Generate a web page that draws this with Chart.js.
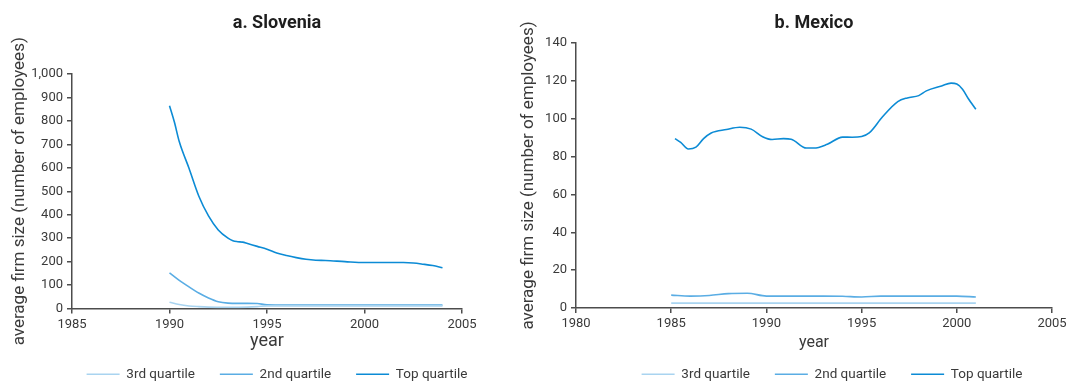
<!DOCTYPE html>
<html>
<head>
<meta charset="utf-8">
<script src="https://cdn.jsdelivr.net/npm/chart.js@4.4.1/dist/chart.umd.min.js"></script>
<style>
  html, body { margin: 0; padding: 0; background: #ffffff; }
  body { width: 1072px; height: 382px; overflow: hidden; position: relative; }
  canvas { position: absolute; top: 0; }
  #slovenia { left: 0; }
  #mexico { left: 496px; }
</style>
</head>
<body>
<canvas id="slovenia" width="500" height="392"></canvas>
<canvas id="mexico" width="576" height="392"></canvas>
<script>
// ---- Panel a: Slovenia (average firm size by size quartile) ----
const sloTopYears = [1990, 1990.25, 1990.5, 1991, 1991.5, 1992, 1992.5, 1993, 1993.25, 1993.5, 1993.75, 1994, 1994.5, 1995, 1995.5, 1996, 1996.5, 1997, 1997.5, 1998, 1999, 2000, 2001, 2002, 2002.5, 2003, 2003.5, 2004];
const sloTopValues = [865, 795, 712, 598, 480, 395, 335, 300, 289, 285, 283, 277, 265, 253, 237, 226, 217, 210, 206, 205, 200, 196, 196, 196, 194, 189, 183, 174];

const sloSecondYears = [1990, 1990.5, 1991, 1991.5, 1992, 1992.5, 1993, 1993.5, 1994, 1994.5, 1995, 1996, 1997, 1998, 1999, 2000, 2001, 2002, 2003, 2004];
const sloSecondValues = [152, 120, 92, 66, 45, 29, 23, 22, 22, 21, 16, 15, 15, 15, 15, 15, 15, 15, 15, 15];

const sloThirdYears = [1990, 1990.5, 1991, 1991.5, 1992, 1993, 1994, 1994.5, 1995, 1996, 1997, 1998, 1999, 2000, 2001, 2002, 2003, 2004];
const sloThirdValues = [27, 17, 11, 8, 6, 5, 6, 8, 11, 11, 11, 11, 11, 11, 11, 11, 11, 11];

// ---- Panel b: Mexico ----
const mexTopYears = [1985.2, 1985.5, 1985.9, 1986.3, 1986.7, 1987.1, 1987.9, 1988.6, 1989.2, 1989.8, 1990.3, 1990.9, 1991.3, 1992.1, 1992.5, 1993.2, 1994, 1994.5, 1995, 1995.4, 1996.1, 1996.9, 1997.4, 1998, 1998.4, 1999.2, 1999.7, 2000, 2000.3, 2000.6, 2001];
const mexTopValues = [89.5, 87.5, 84, 85, 89.5, 92.5, 94.3, 95.5, 94.5, 90.5, 89, 89.5, 89.2, 84.5, 84.5, 86.5, 90.3, 90.2, 90.6, 92.5, 101, 109, 111, 112.2, 114.7, 117.3, 118.8, 118.3, 115.6, 110.7, 105];

const mexSecondYears = [1985, 1986, 1987, 1988, 1989, 1990, 1991, 1992, 1993, 1994, 1995, 1996, 1997, 1998, 1999, 2000, 2001];
const mexSecondValues = [6.8, 6.3, 6.6, 7.6, 7.8, 6.3, 6.3, 6.3, 6.3, 6.2, 5.8, 6.3, 6.3, 6.3, 6.3, 6.3, 5.8];

const mexThirdYears = [1985, 1987, 1989, 1991, 1993, 1995, 1997, 1999, 2001];
const mexThirdValues = [2.6, 2.6, 2.6, 2.6, 2.6, 2.6, 2.6, 2.6, 2.6];

// Legend / series labels
const seriesLabels = ['3rd quartile', '2nd quartile', 'Top quartile'];
const seriesColors = ['#a9d4f0', '#5aade4', '#0c8bd5'];

const FONT = "'Liberation Sans Narrow', 'Arial Narrow', 'Roboto', sans-serif";
Chart.defaults.font.family = FONT;
Chart.defaults.color = '#3a3a3a';

const toPoints = (xs, ys) => xs.map((x, i) => ({ x, y: ys[i] }));

// Moves the title and legend so their centres sit at given canvas x positions.
const headingPlacer = {
  id: 'headingPlacer',
  afterLayout(chart, args, opts) {
    const shift = (box, cx) => {
      if (!box || cx == null) return;
      const half = (box.right - box.left) / 2;
      box.left = cx - half;
      box.right = cx + half;
    };
    shift(chart.titleBlock, opts.titleX);
    shift(chart.legend, opts.legendX);
  }
};

function makeDatasets(groups) {
  return groups.map((g, i) => ({
    label: seriesLabels[i],
    data: toPoints(g[0], g[1]),
    borderColor: seriesColors[i],
    backgroundColor: seriesColors[i],
    borderWidth: 1.6,
    pointRadius: 0,
    fill: false,
    cubicInterpolationMode: 'monotone'
  }));
}

function makeChart(id, cfg) {
  const axisColor = '#4d4d4d';
  return new Chart(document.getElementById(id), {
    type: 'line',
    data: { datasets: makeDatasets(cfg.groups) },
    plugins: [headingPlacer],
    options: {
      responsive: false,
      animation: false,
      devicePixelRatio: 1,
      layout: { padding: { left: 0, right: cfg.padRight, top: 0, bottom: 1 } },
      plugins: {
        headingPlacer: { titleX: cfg.titleX, legendX: cfg.legendX },
        title: {
          display: true,
          text: cfg.title,
          color: '#1e1e1e',
          font: { size: 18, weight: 'bold', family: FONT },
          padding: { top: 13, bottom: cfg.titleGap }
        },
        legend: {
          position: 'bottom',
          labels: {
            usePointStyle: true,
            pointStyle: 'line',
            pointStyleWidth: 33,
            padding: 25,
            color: '#3a3a3a',
            font: { size: 13.5, family: FONT }
          }
        },
        tooltip: { enabled: false }
      },
      scales: {
        x: {
          type: 'linear',
          min: cfg.xMin,
          max: cfg.xMax,
          afterFit: (s) => { s.height = cfg.xHeight; },
          afterBuildTicks: (s) => {
            const t = [];
            for (let v = cfg.xMin; v <= cfg.xMax; v += 5) t.push({ value: v });
            s.ticks = t;
          },
          ticks: {
            callback: (v) => String(v),
            color: '#3a3a3a',
            font: { size: 13, family: FONT },
            padding: 3,
            maxRotation: 0
          },
          grid: { drawOnChartArea: false, drawTicks: true, tickLength: 5, color: axisColor, lineWidth: 1.5 },
          border: { display: true, color: axisColor, width: 1.5 },
          title: {
            display: true,
            text: 'year',
            color: '#3a3a3a',
            font: { size: cfg.xTitleSize, family: FONT },
            padding: { top: 0, bottom: cfg.xTitlePad }
          }
        },
        y: {
          min: 0,
          max: cfg.yMax,
          afterFit: (s) => { s.width = cfg.yWidth; },
          ticks: {
            stepSize: cfg.yStep,
            callback: (v) => v.toLocaleString('en-US'),
            color: '#3a3a3a',
            font: { size: 13, family: FONT },
            padding: 4
          },
          grid: { drawOnChartArea: false, drawTicks: true, tickLength: 5, color: axisColor, lineWidth: 1.5 },
          border: { display: true, color: axisColor, width: 1.5 },
          title: {
            display: true,
            text: 'average firm size (number of employees)',
            color: '#3a3a3a',
            font: { size: 17, family: FONT },
            padding: { top: cfg.yTitlePad, bottom: 0 }
          }
        }
      }
    }
  });
}

makeChart('slovenia', {
  title: 'a. Slovenia',
  groups: [[sloThirdYears, sloThirdValues], [sloSecondYears, sloSecondValues], [sloTopYears, sloTopValues]],
  xMin: 1985, xMax: 2005, yMax: 1000, yStep: 100,
  padRight: 38, yWidth: 72, xHeight: 34, titleGap: 39.4,
  xTitleSize: 18, xTitlePad: -10, yTitlePad: 10,
  titleX: 277, legendX: 277
});

makeChart('mexico', {
  title: 'b. Mexico',
  groups: [[mexThirdYears, mexThirdValues], [mexSecondYears, mexSecondValues], [mexTopYears, mexTopValues]],
  xMin: 1980, xMax: 2005, yMax: 140, yStep: 20,
  padRight: 20, yWidth: 80, xHeight: 34.5, titleGap: 8.4,
  xTitleSize: 16, xTitlePad: -10, yTitlePad: 23,
  titleX: 318, legendX: 336
});
</script>
</body>
</html>
